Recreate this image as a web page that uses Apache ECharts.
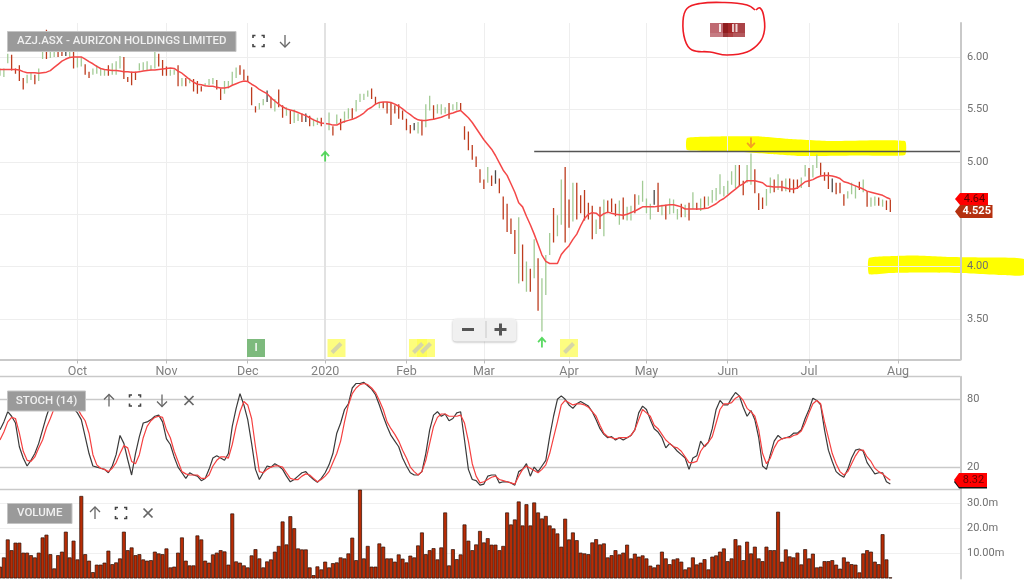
<!DOCTYPE html>
<html><head><meta charset="utf-8">
<style>html,body{margin:0;padding:0;background:#fff}#c{width:1024px;height:580px}</style>
<script src="https://cdn.jsdelivr.net/npm/echarts@6/dist/echarts.min.js"></script>
</head><body><div id="c"></div>
<script>
const holidays=['2019-12-25','2019-12-26','2020-01-01','2020-01-27','2020-04-10','2020-04-13','2020-06-08'];
const monthTicks={'2019-10-01':'Oct','2019-11-01':'Nov','2019-12-02':'Dec','2020-01-02':'2020','2020-02-03':'Feb','2020-03-02':'Mar','2020-04-01':'Apr','2020-05-01':'May','2020-06-01':'Jun','2020-07-01':'Jul','2020-08-03':'Aug'};
const priceTicks=[3.5,4,4.5,5,5.5,6];
const stochTicks=[0,20,80,100];
const volumeTicks=[10,20,30];
const barHigh=[5.89,5.89,6.03,6.02,5.89,5.92,5.80,5.83,5.85,5.83,
5.89,6.10,6.26,6.07,6.07,6.07,6.06,6.06,6.07,6.07,
6.00,6.00,5.93,5.86,5.89,5.92,5.89,5.88,5.92,5.94,
5.96,6.01,6.00,5.81,5.86,5.86,5.94,5.95,5.96,5.92,
6.05,6.03,5.97,5.91,5.88,5.88,5.92,5.80,5.80,5.80,
5.79,5.77,5.72,5.75,5.79,5.80,5.78,5.70,5.77,5.77,
5.86,5.90,5.92,5.88,5.82,5.71,5.53,5.56,5.60,5.68,
5.62,5.60,5.69,5.54,5.52,5.49,5.50,5.46,5.46,5.46,
5.44,5.41,5.42,5.42,5.28,5.47,5.34,5.45,5.41,5.48,
5.51,5.51,5.59,5.65,5.65,5.68,5.70,5.62,5.57,5.57,
5.57,5.56,5.54,5.55,5.49,5.41,5.35,5.37,5.38,5.40,
5.55,5.63,5.54,5.55,5.55,5.52,5.56,5.55,5.57,5.56,
5.34,5.29,5.16,5.05,4.93,4.83,4.95,4.87,4.92,4.84,
4.67,4.60,4.46,4.35,4.47,4.21,4.05,3.98,4.26,4.08,
3.89,4.11,4.32,4.56,4.49,4.83,4.95,4.64,4.80,4.80,
4.68,4.73,4.61,4.58,4.45,4.57,4.64,4.63,4.65,4.60,
4.63,4.66,4.57,4.58,4.69,4.68,4.82,4.65,4.60,4.73,
4.80,4.59,4.59,4.65,4.64,4.55,4.60,4.59,4.61,4.71,
4.61,4.65,4.67,4.67,4.73,4.75,4.88,4.77,4.82,4.91,
4.97,4.97,4.82,4.97,5.08,4.93,4.70,4.66,4.74,4.85,
4.83,4.88,4.82,4.84,4.84,4.83,4.83,4.85,4.97,4.94,
4.97,5.07,4.99,4.90,4.90,4.84,4.80,4.80,4.69,4.72,
4.80,4.77,4.81,4.83,4.72,4.66,4.67,4.66,4.64,4.63,4.64];
const barLow=[5.82,5.81,5.94,5.87,5.84,5.77,5.69,5.75,5.78,5.74,
5.77,5.98,5.98,5.99,6.00,6.00,6.01,6.01,5.99,5.89,
5.90,5.91,5.83,5.80,5.83,5.84,5.82,5.82,5.82,5.83,
5.83,5.89,5.79,5.76,5.73,5.78,5.87,5.87,5.87,5.87,
5.89,5.91,5.82,5.82,5.82,5.83,5.72,5.72,5.72,5.75,
5.67,5.65,5.67,5.72,5.73,5.74,5.69,5.59,5.65,5.70,
5.73,5.80,5.83,5.78,5.76,5.54,5.47,5.50,5.54,5.57,
5.51,5.48,5.52,5.42,5.44,5.36,5.37,5.39,5.38,5.38,
5.34,5.34,5.35,5.34,5.15,5.30,5.25,5.36,5.30,5.37,
5.41,5.41,5.48,5.57,5.59,5.62,5.60,5.55,5.51,5.51,
5.46,5.35,5.46,5.41,5.40,5.30,5.27,5.30,5.27,5.25,
5.33,5.49,5.40,5.46,5.45,5.46,5.41,5.49,5.49,5.49,
5.21,5.11,5.02,4.95,4.80,4.74,4.80,4.77,4.79,4.70,
4.45,4.33,4.31,4.12,3.84,3.86,3.76,3.76,3.89,3.58,
3.38,3.73,4.11,4.23,4.29,4.40,4.23,4.37,4.43,4.45,
4.51,4.44,4.45,4.26,4.31,4.36,4.29,4.51,4.52,4.48,
4.40,4.45,4.44,4.44,4.51,4.59,4.62,4.51,4.45,4.59,
4.52,4.49,4.45,4.50,4.51,4.45,4.47,4.47,4.44,4.55,
4.54,4.53,4.55,4.58,4.61,4.63,4.69,4.67,4.69,4.78,
4.75,4.77,4.68,4.80,4.78,4.70,4.54,4.55,4.58,4.70,
4.71,4.73,4.72,4.72,4.71,4.70,4.74,4.75,4.86,4.76,
4.85,4.94,4.87,4.82,4.74,4.71,4.69,4.70,4.58,4.65,
4.69,4.65,4.73,4.71,4.57,4.57,4.58,4.58,4.57,4.54,4.52];
const barDir="gggrrrrggr"+"ggrggrrkgr"+"ggrrggggrg"+"ggrrrrgggg"+"grrrggrgrg"+"rrrgggrrgg"+"ggrrrrrggk"+"rgrrgrggrk"+"rggrrgrgrg"+"grggggrrgr"+"rrrrrrrkgr"+"ggrgggrggr"+"rrrrrrgrkr"+"rrrrgrgrgr"+"gggrggrrgr"+"rrrrgrgrrr"+"grggrggggk"+"rgrgggrgrg"+"rgrggggggg"+"grrggrrrgg"+"rgrgrrrggr"+"ggrrrkrrrg"+"ggrgrggrgrr";
const movingAvg=[5.88,5.88,5.88,5.88,5.88,5.875,5.86,5.85,5.85,5.85,
5.845,5.85,5.855,5.87,5.90,5.93,5.96,5.98,5.995,6.0,
6.0,6.0,5.98,5.955,5.935,5.91,5.89,5.88,5.875,5.87,
5.87,5.865,5.86,5.86,5.855,5.855,5.86,5.865,5.87,5.875,
5.875,5.88,5.885,5.89,5.895,5.89,5.865,5.845,5.815,5.785,
5.76,5.74,5.735,5.725,5.72,5.72,5.71,5.705,5.705,5.71,
5.73,5.745,5.76,5.77,5.765,5.74,5.72,5.69,5.67,5.65,
5.61,5.58,5.55,5.525,5.505,5.495,5.485,5.47,5.455,5.44,
5.42,5.40,5.385,5.37,5.365,5.36,5.35,5.35,5.37,5.385,
5.395,5.405,5.42,5.44,5.465,5.50,5.52,5.55,5.565,5.57,
5.57,5.565,5.55,5.53,5.505,5.475,5.45,5.42,5.40,5.395,
5.395,5.40,5.405,5.415,5.425,5.44,5.455,5.465,5.48,5.49,
5.455,5.42,5.375,5.32,5.265,5.21,5.165,5.12,5.06,4.99,
4.92,4.87,4.79,4.71,4.61,4.57,4.48,4.40,4.31,4.21,
4.11,4.05,4.03,4.03,4.03,4.115,4.16,4.20,4.26,4.31,
4.39,4.46,4.50,4.515,4.51,4.48,4.505,4.52,4.51,4.50,
4.495,4.49,4.50,4.515,4.53,4.55,4.57,4.57,4.57,4.57,
4.575,4.58,4.585,4.59,4.59,4.58,4.57,4.55,4.55,4.55,
4.55,4.55,4.555,4.56,4.58,4.60,4.63,4.65,4.68,4.71,
4.74,4.77,4.79,4.82,4.82,4.82,4.81,4.80,4.77,4.765,
4.76,4.76,4.76,4.75,4.74,4.74,4.75,4.78,4.81,4.82,
4.83,4.85,4.865,4.87,4.87,4.865,4.855,4.84,4.81,4.80,
4.785,4.77,4.755,4.74,4.72,4.71,4.70,4.69,4.68,4.66,4.645];
const stochK=[53,60,69,65,59,38,28,21,26,32,
41,53,65,75,81,83,84,83,81,72,
68,62,47,32,21,20,19,18,15,21,
31,48,41,26.5,13,32,47,59,60,62,
65,66,60,45,40,29,20,15,10,15,
13,12,8,10,18,28,30,28,26,32,
56,72,85,75,62,41,18,9,15,21,
20,23,21,18,12,7,9,12,15,16,
12,9,6.5,10,15,22,32,50,59,71,
76,90,94,94,95,92,89,84,75,65,
56,48,43,38,28,21,15,13,13,16,
32,53,66,69,65,67,61,63,68,69,
44,18,9,8,4,5,12,13,13,6,
7,7,6,4,16,18,23,12,20,16,
21,26,47,65,80,83,80,75,72,76,
78,76,74,69,62,54,49,46,47,44,
46,44,46,48,53,68,74,71,62,54,
51,46,37,41,38,34,31,28,18,28,
30,43,38,42,54,71,79,75,75,81,
86,83,73,65,70,62,46,21,18,31,
43,48,45,46,47,50,50,53,63,71,
81,79,75,53,35,25,16,13,11,18,
28,35,36,34,24,19,14,15,15,7,5];
const stochD=[44,51,60,64,63,50,34,26,25,29,
37,44,55,63,72,78,81,83,82,78,
72,66,61,50,31,22,19,18,16,19,
24,32,39,37,25,23,31,46,56,61,
64,65,64,53,46,34,25,16,14,13,
13,13,10,10,13,21,26,29,29,28,
40,56,69,78,75,63,38,16,15,18,
20,21,21,20,15,10,9,9,12,14,
13,10,7,9,12,16,24,32,43,60,
75,85,90,93,94,93,90,86,79,71,
60,54,49,43,35,28,20,16,13,16,
26,41,56,64,67,67,65,65,65,66,
59,43,23,12,6,7,9,11,12,9,
8,7,6,5,12,18,21,19,17,15,
18,22,32,46,60,75,79,77,75,76,
76,75,73,69,65,57,50,47,46,45,
46,46,46,48,53,62,71,68,65,57,
54,49,44,41,38,37,34,29,24,24,
25,34,39,42,47,59,71,76,76,77,
81,83,79,72,69,65,53,32,23,28,
37,43,45,46,46,48,49,52,59,68,
76,79,76,60,46,32,23,16,13,16,
23,30,35,35,29,25,19,16,14,11,8.32];
const volume=[4.7,8.4,15.6,11.3,14.3,14.3,10.3,10.3,9.3,8.4,
10.3,16.4,17.5,9.7,4,9.3,10.7,18.7,8.4,15.1,
7.6,33,9.7,7.1,2.5,5.5,5.5,6.3,11.1,5.7,
6.4,8,18.7,11.3,12.4,9.3,9.7,7.6,7.1,7.3,
10.7,10,9.7,12,4.4,4.7,10.3,16.4,7.1,5.2,
5.2,17.2,15.6,7.1,6.3,9.6,10.3,11.3,10.8,5.5,
26,6.8,6.3,5.2,4.4,9.2,11.7,8,4.4,6.8,
7.6,10.7,13,22.8,13.6,24.9,20.1,12,11.6,11.6,
4.4,1.3,4.8,3.6,6.7,4.4,6.1,6.4,8.4,8,
10,16.3,7.3,36,8,13,4.7,4.7,14,12.7,
8,8,6.7,9.6,7.9,6.4,9.1,8.4,13.2,18.4,
9.7,11.3,12.1,7.6,12.4,26.4,5.2,11.7,7.7,9.6,
21.6,15.1,11.3,13.6,19,14.4,16.1,13.5,13.5,11.3,
13,26.4,21.6,23.6,30.8,21.2,29.7,21.2,30.4,26.4,
24,25,21.2,20,18,12.7,23.9,15.6,18.4,15.3,
10.3,10,9.7,14.4,15.7,13.6,14,8.4,9.3,11.3,
9.6,10.3,13.5,8,9.9,8.7,9.2,8,5.1,4.4,
5.5,10.7,8,5.7,7.6,8,6.7,3.6,4.4,8.4,
5.6,6.3,7.7,3.6,8.7,9.2,10.7,12,6.9,8,
15.7,13.2,7.3,14.7,10,12.7,8,6.9,12.7,11.3,
11.3,26.7,6.7,11.6,8.8,8.4,10.3,5.6,11.7,8,
9.9,4.4,4.7,6.9,6.9,7.3,5.5,3.9,8.4,6.7,
5.7,5.5,2.4,10,11.3,10.7,6.7,5.7,17.7,7.6,0.4];
const trendPrice=5.103, trendStartIdx=138;
const arrowsUp=[[84,5.055],[140,3.28]];
const arrowsDown=[[194,5.18]];

const categories=[];
{let d=new Date(Date.UTC(2019,8,3));
 while(categories.length<249){
  const s=d.toISOString().slice(0,10),w=d.getUTCDay();
  if(w!==0&&w!==6&&!holidays.includes(s))categories.push(s);
  d=new Date(d.getTime()+864e5);
 }}
const COL={g:'#a2cb95',r:'#bd3c1e',k:'#4a4a4a'};
const FONT='Roboto, Arial, sans-serif';
const isTick=(i,v)=>v in monthTicks;
const G=[{left:0,width:960,top:23,height:336.5},{left:0,width:960,top:376.7,height:113},{left:0,width:960,top:490,height:88.4}];
const axLine={show:true,lineStyle:{color:'#c9c9c9',width:2}};
function xAx(i,extra){return Object.assign({type:'category',gridIndex:i,data:categories,boundaryGap:false,axisTick:{show:false},axisLabel:{show:false},axisLine:{show:false},splitLine:{show:false}},extra||{});}
function yAx(i,extra){return Object.assign({type:'value',gridIndex:i,position:'right',offset:1,axisLine:axLine,axisTick:{show:false},scale:true},extra);}

// ---- chrome helpers ----
const iconStroke={stroke:'#666',lineWidth:1.3,fill:null};
function pl(pts,style){return {type:'polyline',z:50,silent:true,shape:{points:pts},style:Object.assign({},iconStroke,style||{})};}
function fullIcon(x,y){const a=5.5,b=2.5;return [[[x-a,y-a+b],[x-a,y-a],[x-a+b,y-a]],[[x+a-b,y-a],[x+a,y-a],[x+a,y-a+b]],[[x-a,y+a-b],[x-a,y+a],[x-a+b,y+a]],[[x+a-b,y+a],[x+a,y+a],[x+a,y+a-b]]].map(p=>pl(p,{stroke:'#444',lineWidth:1.6}));}
function arrowIcon(x,y,up){const s=up?-1:1;return [pl([[x,y-6*s],[x,y+6*s]]),pl([[x-5,y+1*s],[x,y+6*s],[x+5,y+1*s]])];}
function xIcon(x,y){return [pl([[x-4.5,y-4.5],[x+4.5,y+4.5]],{lineWidth:1.7}),pl([[x+4.5,y-4.5],[x-4.5,y+4.5]],{lineWidth:1.7})];}
function titleBox(x,y,w,h,t){return [{type:'rect',z:49,silent:true,shape:{x,y,width:w,height:h},style:{fill:'#9a9a9a',stroke:'#c4c4c4',lineWidth:1}},
 {type:'text',z:50,silent:true,style:{x:x+w/2,y:y+h/2,text:t,fill:'#f0f0f0',font:'500 11.5px '+FONT,textAlign:'center',textVerticalAlign:'middle'}}];}
function tag(x0,x1,y0,y1,fill,tcol,t,bold,shadow){const m=(y0+y1)/2;const els=[];
 if(shadow)els.push({type:'polygon',z:48,silent:true,shape:{points:[[x0+5,y0+2],[x1,y0+2],[x1,y1+1.5],[x0+5,y1+1.5],[x0,m+2]]},style:{fill:'#111'}});
 els.push({type:'polygon',z:49,silent:true,shape:{points:[[x0+5,y0],[x1,y0],[x1,y1],[x0+5,y1],[x0,m]]},style:{fill}});
 els.push({type:'text',z:50,silent:true,style:{x:(x0+x1)/2+3,y:m,text:t,fill:tcol,font:(bold?'bold ':'')+'11px '+FONT,textAlign:'center',textVerticalAlign:'middle'}});return els;}
function pencil(x,y){return pl([[x-4.5,y+4.5],[x+4.5,y-4.5]],{stroke:'#d6d6a8',lineWidth:4});}
function rect(x,y,w,h,fill,z,op){return {type:'rect',z:z,silent:true,shape:{x,y,width:w,height:h},style:{fill,opacity:op==null?1:op}};}

const graphicEls=[
 {type:'polygon',z:-5,silent:true,shape:{smooth:0.15,points:[[687,138],[720,136.5],[760,136.5],[790,139],[830,141],[905,141],[905,155],[860,155.5],[800,156],[770,154],[730,151],[687,150]]},style:{fill:'#ffff00'}},
 {type:'polygon',z:-5,silent:true,shape:{smooth:0.15,points:[[869,258],[895,256],[915,255.5],[950,257],[985,257.5],[1024,259],[1024,275],[1000,275],[960,273],[920,272.5],[890,273],[869,274]]},style:{fill:'#ffff00'}},
 {type:'polyline',z:60,silent:true,shape:{smooth:0.4,points:[[755,10],[747,5],[723,2.5],[700,3.5],[687,8.5],[683,21],[685,40],[692,50],[710,52],[727,55],[747,52],[760,42],[764.5,30],[763.5,15],[760,8],[756,10]]},style:{stroke:'#ee1c25',lineWidth:1.6,fill:null}},
 rect(710,23,13,14,'#bf6a72',55),rect(723,23,5,14,'#8e1c1e',55),rect(728,23,5,14,'#a42628',55),rect(733,23,12,14,'#aa4347',55),
 rect(710,33,35,4,'#ffffff',56,0.12),rect(719,24,2,8,'#f6e6e6',56),rect(732,24,2,8,'#e8c8c8',56),rect(735.5,24,2,8,'#f0d8d8',56),
 rect(247,339,18,18,'#7dba7d',40),
 {type:'text',z:41,silent:true,style:{x:256,y:348,text:'I',fill:'#eef6ee',font:'bold 11px '+FONT,textAlign:'center',textVerticalAlign:'middle'}},
 rect(327.5,339,18,18,'#fdfd80',40),pencil(336.5,348),
 rect(409,339,18,18,'#fdfd50',40,0.75),rect(417,339,18,18,'#fdfd50',40,0.75),pencil(418,348),pencil(426,348),
 rect(560,339,18,18,'#fdfd80',40),pencil(569,348),
 {type:'rect',z:45,silent:true,shape:{x:452.5,y:318.5,width:64,height:23,r:4},style:{fill:'#f0f0f0',shadowColor:'rgba(0,0,0,0.25)',shadowBlur:2,shadowOffsetY:1}},
 rect(462,328,12,3,'#555',46),rect(485.5,321,1,17,'#c8c8c8',46),rect(494.5,328,12,3,'#555',46),rect(499,323.5,3,12,'#555',46),
 ...titleBox(7.5,31.5,228.5,20,'AZJ.ASX - AURIZON HOLDINGS LIMITED'),
 ...fullIcon(258.5,41),...arrowIcon(285,41,false),
 ...titleBox(7.5,391,78,20,'STOCH (14)'),
 ...arrowIcon(109,400.5,true),...fullIcon(135,400.5),...arrowIcon(162,400.5,false),...xIcon(189,400.5),
 ...titleBox(7.5,503.5,64.5,20,'VOLUME'),
 ...arrowIcon(95,513,true),...fullIcon(121,513),...xIcon(148,513),
 ...tag(955,988,193,205,'#ff0000','#5a0000','4.64'),
 ...tag(955,992.5,205,218,'#b5300f','#ffffff','4.525',true),
 ...tag(954,987,473,487,'#ff0000','#6a0000','8.32',false,true)
];

const option={
 animation:false,textStyle:{fontFamily:FONT},
 grid:G,
 xAxis:[
  xAx(0,{axisLine:{show:true,onZero:false,lineStyle:{color:'#c9c9c9',width:2}},
   axisTick:{show:true,length:4,lineStyle:{color:'#bbb'},interval:isTick},
   splitLine:{show:true,lineStyle:{color:'#eeeeee',width:1},interval:isTick},
   axisLabel:{show:true,interval:isTick,formatter:v=>monthTicks[v]||'',color:'#808080',fontSize:12.5,margin:6,showMinLabel:true,showMaxLabel:true,hideOverlap:false}}),
  xAx(1,{axisLine:{show:false}}),
  xAx(2)
 ],
 yAxis:[
  yAx(0,{min:3.114,max:6.324,splitLine:{show:true,lineStyle:{color:'#eeeeee'}},
   axisTick:{show:false,customValues:priceTicks},
   axisLabel:{customValues:priceTicks,formatter:v=>(+v).toFixed(2),color:'#707070',fontSize:11,margin:6}}),
  yAx(1,{min:0,max:100,splitLine:{show:true,lineStyle:{color:'#c9c9c9',width:1.4}},
   axisTick:{show:false,customValues:stochTicks},
   axisLabel:{customValues:[20,80],color:'#707070',fontSize:11,margin:6}}),
  yAx(2,{min:0,max:35.4,splitLine:{show:true,lineStyle:{color:'#f0f0f0'}},
   axisTick:{show:false,customValues:volumeTicks},
   axisLabel:{customValues:volumeTicks,formatter:v=>v===10?'10.00m':(+v).toFixed(1)+'m',color:'#707070',fontSize:11,margin:6}})
 ],
 series:[
  {type:'custom',name:'Price',xAxisIndex:0,yAxisIndex:0,clip:true,
   data:barHigh.map((h,i)=>[i,h,barLow[i]]),encode:{x:0,y:[1,2]},
   renderItem(params,api){const i=api.value(0),a=api.coord([i,api.value(1)]),b=api.coord([i,api.value(2)]);
    return {type:'line',shape:{x1:a[0],y1:a[1],x2:b[0],y2:b[1]},style:{stroke:COL[barDir[i]],lineWidth:1.3}};},
   markLine:{silent:true,symbol:'none',animation:false,label:{show:false},
    data:[
     [{xAxis:categories[trendStartIdx],yAxis:trendPrice,lineStyle:{color:'#555',width:1.4,type:'solid'}},{xAxis:categories[248],yAxis:trendPrice}],
     [{xAxis:'2020-01-02',yAxis:3.114,lineStyle:{color:'#e2e2e2',width:2,type:'solid'}},{xAxis:'2020-01-02',yAxis:6.324}]
    ]}},
  {type:'line',name:'MA',xAxisIndex:0,yAxisIndex:0,data:movingAvg,showSymbol:false,lineStyle:{color:'#f44848',width:1.5},z:4},
  {type:'scatter',name:'Up',xAxisIndex:0,yAxisIndex:0,data:arrowsUp,symbol:'path://M5 0L10 5.4L8.6 6.8L6 4.1L6 12L4 12L4 4.1L1.4 6.8L0 5.4Z',symbolSize:[9,11],itemStyle:{color:'#2fd03a'},z:5},
  {type:'scatter',name:'Down',xAxisIndex:0,yAxisIndex:0,data:arrowsDown,symbol:'path://M5 12L10 6.6L8.6 5.2L6 7.9L6 0L4 0L4 7.9L1.4 5.2L0 6.6Z',symbolSize:[9,11],itemStyle:{color:'#f08a2a'},z:5},
  {type:'line',name:'%K',xAxisIndex:1,yAxisIndex:1,data:stochK,showSymbol:false,lineStyle:{color:'#3a3a3a',width:1.2},z:3},
  {type:'line',name:'%D',xAxisIndex:1,yAxisIndex:1,data:stochD,showSymbol:false,lineStyle:{color:'#f54040',width:1.2},z:4},
  {type:'bar',name:'Volume',xAxisIndex:2,yAxisIndex:2,data:volume,barWidth:3.87,itemStyle:{color:'#b82c05',borderColor:'#2a0e04',borderWidth:0.7}}
 ],
 graphic:{elements:graphicEls}
};
const chart=echarts.init(document.getElementById('c'),null,{renderer:'canvas'});
chart.setOption(option);
</script></body></html>
